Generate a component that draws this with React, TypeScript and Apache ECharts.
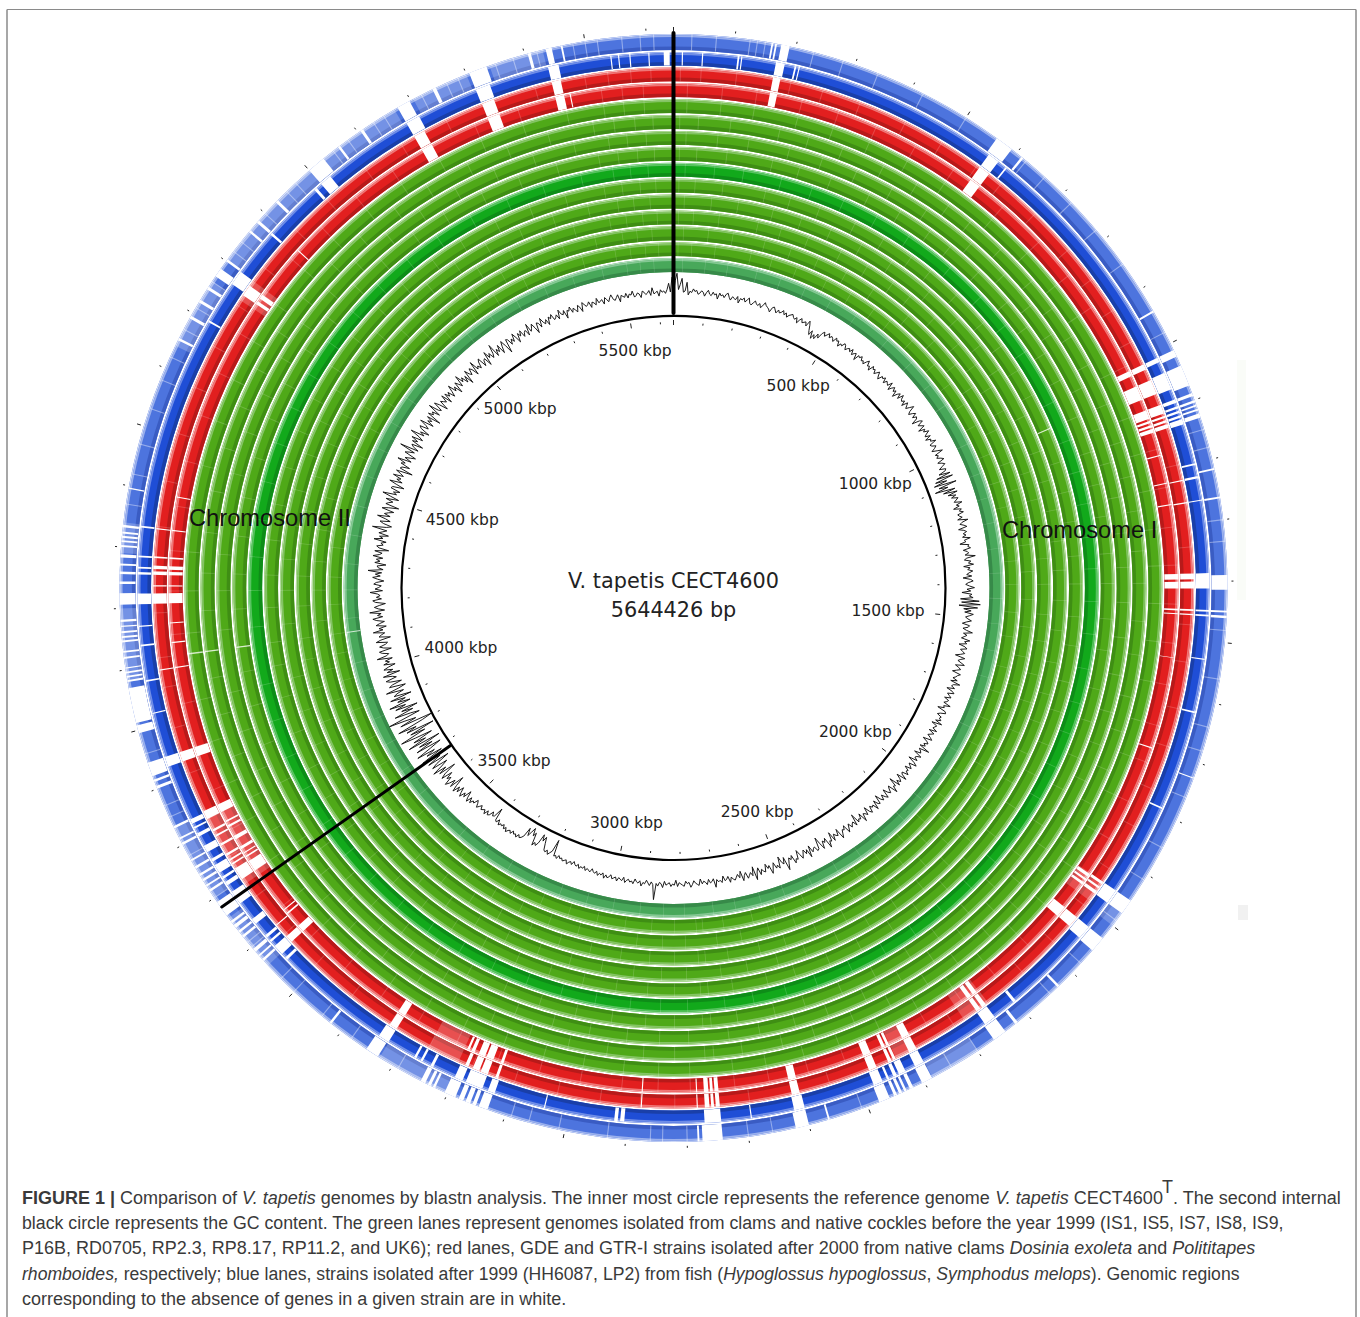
import React, { useEffect, useRef } from "react";
import * as echarts from "echarts";

const GENOME_KBP = 5644.426;
const MAJOR_TICKS = [500, 1000, 1500, 2000, 2500, 3000, 3500, 4000, 4500, 5000, 5500];
const CHROMOSOME_BOUNDARIES = [0, 3681];
const GREEN_STRAINS = ["UK6", "RP11.2", "RP8.17", "RP2.3", "RD0705", "P16B", "IS9", "IS8", "IS7", "IS5", "IS1"];

// faint (partially missing) stripes, kbp
const FAINT_A = [12, 48, 110, 205, 262, 330, 415, 487, 560, 612, 690, 775, 840, 905, 968, 1051, 1128, 1196, 1263, 1340, 1402, 1475, 1540, 1622, 1690, 1768, 1840, 1925, 2002, 2085, 2160, 2240, 2310, 2392, 2468, 2548, 2612, 2690, 2745, 2762, 2820, 2880, 2950, 3025, 3102, 3180, 3262, 3340, 3422, 3505, 3580, 3662, 3745, 3820, 3905, 3988, 4060, 4112, 4190, 4262, 4340, 4420, 4505, 4590, 4668, 4750, 4830, 4915, 4990, 5075, 5150, 5238, 5320, 5402, 5490, 5530, 5570, 5605];
const FAINT_B = [25, 88, 150, 232, 300, 372, 450, 530, 640, 730, 810, 880, 1002, 1090, 1160, 1230, 1302, 1370, 1440, 1510, 1585, 1660, 1728, 1805, 1880, 1960, 2045, 2120, 2200, 2275, 2350, 2430, 2510, 2578, 2650, 2712, 2792, 2850, 2915, 2990, 3065, 3142, 3222, 3300, 3380, 3462, 3545, 3620, 3700, 3785, 3862, 3945, 4025, 4150, 4228, 4300, 4380, 4462, 4548, 4630, 4710, 4790, 4872, 4950, 5032, 5112, 5195, 5280, 5362, 5446, 5515, 5552, 5590];
const STRONG_STRIPES: Record<number, number[]> = { 10: [4112], 9: [4112], 7: [4112], 5: [1051], 0: [4112] };

const RED_INNER_GAPS = [[173, 186], [565, 585], [1012, 1022], [1042, 1068], [1088, 1104], [1108, 1112], [1116, 1120], [1123, 1130], [1171, 1173], [1222, 1224], [1261, 1263], [1386, 1396], [1400, 1412], [1448, 1451], [1456, 1458], [1535, 1536], [1700, 1702], [1952, 1958], [1962, 1966], [1970, 1975], [2026, 2046], [2244, 2252], [2256, 2264], [2386, 2400], [2426, 2431], [2434, 2440], [2462, 2476], [2602, 2616], [2742, 2749], [2752, 2757], [2760, 2768], [2877, 2879], [2780, 2782], [3131, 3136], [3150, 3163], [3166, 3178], [3186, 3192], [3196, 3200], [3326, 3340], [3562, 3575], [3603, 3606], [3612, 3614], [3700, 3720], [3728, 3731], [3736, 3738], [3745, 3750], [3765, 3772], [3790, 3794], [3800, 3803], [3820, 3835], [3928, 3945], [4090, 4092], [4135, 4137], [4170, 4172], [4206, 4224], [4236, 4238], [4256, 4262], [4266, 4272], [4285, 4288], [4335, 4337], [4395, 4397], [4770, 4776], [4782, 4790], [4890, 4892], [5176, 5196], [5306, 5328], [5432, 5448], [5458, 5460]];
const RED_OUTER_GAPS = [[173, 186], [565, 585], [1012, 1022], [1042, 1068], [1088, 1104], [1108, 1112], [1116, 1120], [1123, 1130], [1223, 1225], [1262, 1264], [1386, 1396], [1400, 1412], [1448, 1451], [1456, 1458], [1950, 1955], [1960, 1964], [1969, 1975], [2026, 2046], [2244, 2252], [2256, 2264], [2386, 2400], [2426, 2431], [2434, 2440], [2462, 2476], [2602, 2616], [2742, 2749], [2752, 2757], [2760, 2768], [2877, 2879], [2780, 2782], [3131, 3136], [3150, 3163], [3166, 3178], [3186, 3192], [3326, 3340], [3562, 3575], [3600, 3602], [3700, 3722], [3730, 3733], [3738, 3741], [3748, 3752], [3768, 3772], [3786, 3789], [3796, 3800], [3820, 3835], [3928, 3945], [4090, 4092], [4206, 4224], [4236, 4238], [4256, 4262], [4266, 4272], [4285, 4288], [4335, 4337], [4770, 4790], [5176, 5196], [5306, 5328], [5432, 5448]];
const BLUE_INNER_GAPS = [[14, 16], [48, 50], [108, 111], [114, 116], [173, 188], [205, 208], [212, 214], [565, 585], [600, 603], [1012, 1020], [1040, 1070], [1088, 1094], [1100, 1104], [1108, 1112], [1116, 1120], [1123, 1132], [1200, 1203], [1222, 1226], [1262, 1264], [1386, 1412], [1448, 1451], [1456, 1459], [1530, 1532], [1620, 1623], [1790, 1793], [1950, 1975], [2026, 2050], [2200, 2205], [2245, 2265], [2386, 2402], [2420, 2432], [2436, 2442], [2450, 2454], [2462, 2478], [2600, 2618], [2690, 2692], [2742, 2770], [2905, 2912], [2916, 2922], [3040, 3042], [3128, 3140], [3150, 3180], [3186, 3200], [3240, 3245], [3260, 3264], [3272, 3276], [3326, 3345], [3545, 3550], [3558, 3576], [3585, 3589], [3595, 3600], [3625, 3635], [3668, 3692], [3705, 3712], [3718, 3722], [3730, 3745], [3752, 3757], [3770, 3782], [3800, 3806], [3815, 3818], [3824, 3832], [3928, 3945], [4020, 4022], [4075, 4078], [4135, 4138], [4168, 4170], [4206, 4224], [4256, 4260], [4266, 4269], [4285, 4288], [4335, 4338], [4700, 4703], [4775, 4800], [4880, 4884], [4985, 4990], [5000, 5020], [5176, 5200], [5305, 5330], [5432, 5450], [5538, 5540], [5551, 5553], [5570, 5572], [5602, 5604], [5628, 5638]];
const BLUE_OUTER_GAPS = [[160, 163], [166, 169], [176, 190], [560, 590], [610, 614], [940, 943], [1012, 1024], [1040, 1075], [1088, 1093], [1100, 1104], [1108, 1111], [1115, 1118], [1123, 1130], [1215, 1218], [1262, 1265], [1390, 1414], [1448, 1451], [1456, 1460], [1725, 1727], [1950, 1975], [2026, 2052], [2130, 2134], [2220, 2225], [2245, 2268], [2386, 2404], [2420, 2426], [2432, 2436], [2440, 2445], [2449, 2454], [2462, 2480], [2565, 2568], [2600, 2622], [2742, 2775], [2780, 2783], [3130, 3145], [3150, 3156], [3160, 3168], [3172, 3180], [3186, 3205], [3222, 3226], [3230, 3235], [3240, 3248], [3328, 3350], [3420, 3424], [3570, 3574], [3580, 3583], [3590, 3596], [3620, 3624], [3630, 3634], [3640, 3646], [3650, 3654], [3665, 3692], [3712, 3716], [3722, 3725], [3732, 3736], [3742, 3746], [3756, 3760], [3770, 3773], [3800, 3804], [3810, 3813], [3830, 3834], [3900, 3905], [3912, 3916], [3922, 3945], [3995, 4008], [4012, 4070], [4080, 4083], [4087, 4090], [4094, 4097], [4102, 4104], [4118, 4121], [4128, 4131], [4145, 4148], [4152, 4155], [4160, 4163], [4170, 4172], [4178, 4182], [4206, 4225], [4240, 4244], [4256, 4260], [4270, 4273], [4283, 4288], [4300, 4303], [4308, 4311], [4315, 4318], [4322, 4325], [4332, 4336], [4395, 4397], [4650, 4654], [4690, 4695], [4720, 4725], [4745, 4750], [4770, 4785], [4800, 4804], [4860, 4864], [4880, 4885], [4925, 4930], [5000, 5030], [5060, 5064], [5105, 5110], [5176, 5198], [5240, 5246], [5305, 5335], [5405, 5410], [5435, 5445], [5460, 5463]];
const BLUE_OUTER_FAINT = [30, 70, 125, 137, 150, 230, 280, 340, 420, 500, 620, 660, 720, 780, 850, 980, 1150, 1180, 1300, 1335, 1480, 1560, 1640, 1680, 1760, 1850, 1910, 1990, 2080, 2150, 2300, 2350, 2510, 2660, 2700, 2800, 2840, 2860, 2930, 3010, 3060, 3090, 3290, 3380, 3440, 3500, 3530, 3600, 3610, 3650, 3700, 3780, 3850, 3870, 3960, 4370, 4420, 4470, 4530, 4580, 4620, 4670, 4710, 4760, 4820, 4840, 4900, 4950, 4970, 5050, 5080, 5130, 5150, 5220, 5265, 5285, 5350, 5380, 5420, 5480, 5500, 5520, 5560, 5590, 5612];
// pale stretches where a lane is only partly aligned, kbp
const RED_PALE = [[1950, 1990], [2240, 2290], [2395, 2425], [3205, 3262], [3690, 3830], [4760, 4800]];
const BLUE_PALE = [[3560, 3660], [3700, 3830], [4290, 4340], [4080, 4200], [4640, 4760], [4800, 5000], [5030, 5170], [5205, 5300], [5340, 5430], [1950, 2000], [2300, 2385], [3205, 3325]];

// GC trace: one reading per 5 kbp, deviation (px-scale) from the base circle
const GC_DEVIATION = [
  -1, 9, 15, 2, 6, 11, 0, 1, 8, -2, 1, 0, 3, 1, 2, -1, 0, 2, 1, -2, 1, 3, 0, -1, 2,
  0, 1, -3, 2, 0, 1, -1, 2, 3, 0, -2, 1, 0, -1, 2, -3, 1, 0, 2, -1, 1, 3, -1, -2, 0,
  2, 0, -1, 1, -2, 0, 3, 1, 0, -1, -3, 1, 2, 0, -2, 1, -1, 0, 2, -1, 1, -2, 0, 1, 2,
  0, -1, 1, -3, 0, 2, -1, 0, 1, -2, 3, 0, -4, -7, -3, -9, -5, -8, -3, -6, -1, 1, -2, 0, 2,
  -1, 1, 0, -2, 2, 0, 1, -3, 0, -1, 2, 1, -2, 0, 1, -1, 2, -2, 0, 1, -4, 1, 0, 2, -1,
  0, -2, 1, 3, -1, 0, -3, 2, 0, 1, -2, 0, 2, -1, -3, 1, 0, 2, -2, 1, 0, -1, 3, -3, 0,
  2, -1, 1, -4, 0, 2, -2, 3, 0, -1, 1, -3, 2, 0, -2, 1, 4, -1, -3, 0, 2, -2, 1, 0, -5,
  1, 3, -2, 0, 2, -4, 1, -1, 3, 0, -2, 2, -3, 1, 0, 4, -2, -1, 2, 0, -3, 1, 5, -2, 0,
  -2, 1, 3, -3, 0, 2, -1, -4, 1, 0, -6, 3, -9, 4, -11, -2, -13, 5, -10, -3, -14, 2, -8, 3, -5,
  1, -3, 2, 0, -2, 4, -1, 1, -4, 2, 0, 3, -2, -1, 1, -3, 5, 0, -2, 1, 3, -4, 0, 2, -1,
  1, -2, 4, -1, 0, -5, 2, 1, 3, -3, 0, 1, -2, 6, -1, -3, 2, 0, 4, -4, 1, -1, 3, 0, -2,
  2, -5, 1, 3, -1, -3, 0, 4, -2, 1, -6, 2, 0, 3, -7, 8, -6, 9, -8, 7, -4, 2, -3, 4, 1,
  -2, 0, 3, -1, -4, 2, 1, -3, 0, 5, -2, 1, -1, -3, 4, 0, 2, -4, 1, 3, -2, 0, 2, -1, -5,
  3, 0, -2, 1, 4, -3, 0, 2, -1, -4, 3, 1, 0, -2, 2, -3, 5, 0, -1, 2, -4, 1, 3, -2, 0,
  2, -3, 1, 0, -2, 4, -1, 0, -5, 2, 3, -1, -3, 1, 0, 2, -2, 4, -4, 1, 0, -1, 3, -3, 2,
  0, -2, 1, 3, -4, 0, 2, -1, 1, -3, 6, -2, 0, 1, -4, 3, 0, -1, 2, -5, 1, 4, -2, 0, 2,
  -3, 1, 0, 3, -2, -1, 4, -4, 0, 2, -1, 3, -6, 1, 0, 5, -3, -1, 2, 0, -4, 3, 1, -2, 2,
  0, -5, 2, 1, -3, 4, -1, 0, -2, 3, 1, -4, 2, 0, -1, 5, -3, 1, 0, 2, -6, 3, -1, 0, 2,
  -2, 1, 4, -3, 0, -1, 2, 5, -4, 1, 0, -2, 3, -5, 2, 1, 6, -3, 0, -2, 4, -1, -7, 2, 3,
  -1, 0, 2, -4, 5, -2, 1, -3, 0, 3, -1, -5, 2, 1, 4, -3, 0, -2, 2, 7, -4, 1, -1, -6, 3,
  0, 2, -3, 1, 5, -2, 0, -4, 2, 1, -1, 3, -3, 0, 6, -5, 2, -1, 1, 3, -2, 0, 4, -4, 1,
  -2, 0, 2, 1, -1, 3, -2, 0, 1, -3, 2, 0, 1, -1, 5, -2, 0, 1, -2, 2, 0, -1, 1, -3, 2,
  1, 0, -2, 1, 3, -1, 0, -2, 2, 1, 0, -1, 2, -3, 1, 0, 2, -1, 0, 1, -2, 3, 0, -1, 2,
  0, 13, 1, -1, 2, 0, -2, 1, 0, 3, -1, 1, 0, -2, 2, 0, 1, -1, 0, 2, -2, 1, 0, -1, 2,
  -1, 0, 1, -2, 0, 1, -1, 2, -2, 0, -1, 1, -2, 0, -1, -3, 0, -1, -2, 0, -3, -1, -2, 0, -3,
  -1, -2, -4, -1, -3, -2, 0, -3, -2, -1, -3, -2, -4, -1, -3, -2, -15, -5, -3, -1, -4, -2, -3, -8, -13,
  -9, -14, -6, -3, -5, -2, -12, -9, -15, -11, -7, -13, -5, -3, -2, -4, -1, -3, -2, -4, -1, -3, -2, 0, -3,
  -1, -4, -2, -3, -1, -5, -2, -3, -13, -5, -4, -7, -3, -2, -5, -1, -4, -3, -2, -5, -3, -1, -4, -6, -2,
  -3, 0, -4, 1, -2, -7, 0, -3, 2, -1, -5, 1, -3, 3, -2, -10, 2, -4, 1, 4, -3, 0, -6, 3, -1,
  -12, 2, -5, 6, -3, -9, 4, -1, -13, 5, -7, 3, 8, -11, 2, -6, 9, -4, -14, 7, -8, 3, -16, 11, -5,
  5, -12, 2, 14, -8, 4, -17, 6, -3, 12, -10, -19, 8, -6, 3, 16, -11, -4, 9, -7, 2, -12, 6, -3, 10,
  -8, 2, -5, 7, -11, 3, 0, -6, 8, -3, -9, 4, 1, -7, 2, 5, -4, -1, 6, -8, 2, -3, 4, 0, -6,
  3, -2, 1, -5, 7, -1, -3, 2, 4, -6, 0, 3, -2, -4, 5, 1, -7, 2, 0, -3, 6, -2, 1, -5, 3,
  0, -4, 2, 5, -3, 1, -2, 7, -5, 0, 3, -1, -6, 2, 4, -3, 1, -2, 0, 6, -4, 2, -1, -3, 3,
  1, -5, 0, 4, -2, 2, -3, 8, -4, 0, 1, -6, 3, -1, 2, -3, 5, 0, -2, 4, -7, 1, 3, -2, 0,
  -4, 6, -1, 2, -5, 3, 0, -3, 9, -2, -6, 1, 4, -4, 0, 7, -3, 2, -1, -5, 5, 0, -8, 3, 1,
  -2, 4, -6, 1, 8, -3, 0, -5, 3, 2, -7, 0, 6, -4, 1, -2, 5, -3, 0, 4, -9, 2, 1, -5, 3,
  0, 7, -4, 2, -2, -6, 4, 1, -3, 10, -5, 0, 2, -7, 3, -1, 5, -4, 0, 8, -3, 1, -6, 2, 4,
  -3, 0, 6, -5, 1, -2, 3, -8, 4, 0, 2, -4, 7, -1, -3, 5, 1, -6, 2, 0, -2, 4, -5, 3, -1,
  2, -4, 0, 5, -2, 1, -6, 3, 0, -3, 6, -1, 2, -4, 1, -7, 4, 0, -2, 3, 1, -5, 6, -2, 0,
  -3, 2, 4, -4, 0, 1, -6, 5, -1, 2, -3, 0, 7, -4, 1, -2, 3, -5, 0, 4, -1, -8, 3, 2, -3,
  1, -2, 4, 0, -5, 2, -1, 3, -3, 0, 1, -4, 5, -2, 0, 3, -1, -6, 2, 1, -3, 4, 0, -2, 1,
  -4, 2, 0, 3, -2, -1, 1, -3, 4, 0, -1, 2, -5, 1, 0, 3, -2, 1, -1, -3, 2, 0, -4, 3, 1,
  -1, 0, 2, -3, 1, 0, -2, 3, -1, 0, 1, -3, 2, 0, -2, 1, 3, -1, -2, 0, 2, -4, 1, 0, -1,
  2, -2, 1, 0, 3, -2, -1, 1, 0, -3, 2, 1, -1, 0, 2, -2, 4, -1, 0, 1, -3, 2, 0, 1, -1,
  2, 7, 0, 12
];
const GC_BASE = 296;
const GC_GAIN = 1.25;
const GC_POINTS = GC_DEVIATION.map((d, i) => [GC_BASE + d * GC_GAIN, i * 5]);

const CENTER: [number, number] = [673.5, 588];
const C_GREEN = ["#b4dc9f", "#84c464", "#4fa918", "#3f8e14"];
const C_BRIGHT = ["#9adb9e", "#58c360", "#12a91b", "#0e8d18"];
const C_SEA = ["#b2ddbb", "#84c893", "#48a85a", "#378a49"];
const C_RED = ["#f8b4b4", "#ef7676", "#e21f1f", "#b71a1a"];
const C_BLUE = ["#aebff2", "#6f8de7", "#1f4ed6", "#1a3fa8"];
const C_PALE = ["#ccd7f6", "#9ab0ed", "#4d74de", "#3a5cc3"];

type Lane = { name: string; r0: number; r1: number; colors: string[]; gaps: number[][]; pale: number[][]; faint: number[]; strong: number[] };
const LANES: Lane[] = [
  ...GREEN_STRAINS.map((name, k) => ({
    name,
    r0: 316 + 15.9 * k,
    r1: 329.9 + 15.9 * k,
    colors: k === 0 ? C_SEA : k === 6 ? C_BRIGHT : C_GREEN,
    gaps: [],
    pale: [],
    faint: k % 2 ? FAINT_A : FAINT_B,
    strong: STRONG_STRIPES[k] || [],
  })),
  { name: "GDE", r0: 491, r1: 505, colors: C_RED, gaps: RED_INNER_GAPS, pale: RED_PALE, faint: FAINT_B, strong: [] },
  { name: "GTR-I", r0: 506.8, r1: 520.6, colors: C_RED, gaps: RED_OUTER_GAPS, pale: RED_PALE, faint: FAINT_A, strong: [] },
  { name: "HH6087", r0: 522.5, r1: 536, colors: C_BLUE, gaps: BLUE_INNER_GAPS, pale: [], faint: [], strong: [] },
  { name: "LP2", r0: 538, r1: 554, colors: C_PALE, gaps: BLUE_OUTER_GAPS, pale: BLUE_PALE, faint: BLUE_OUTER_FAINT, strong: [] },
];

function sector(api: any, params: any, r0: number, r1: number, s: number, e: number, style: any) {
  const { cx, cy } = params.coordSys;
  const a = api.coord([r1, s]);
  const b = api.coord([r1, e]);
  const c = api.coord([r0, s]);
  const rOuter = Math.hypot(a[0] - cx, a[1] - cy);
  const rInner = Math.hypot(c[0] - cx, c[1] - cy);
  const a0 = Math.atan2(a[1] - cy, a[0] - cx);
  let a1 = Math.atan2(b[1] - cy, b[0] - cx);
  if (e - s >= GENOME_KBP) a1 = a0 + Math.PI * 2;
  else if (a1 < a0) a1 += Math.PI * 2;
  return { type: "sector", silent: true, shape: { cx, cy, r: rOuter, r0: rInner, startAngle: a0, endAngle: a1, clockwise: true }, style };
}

function laneSeries(lane: Lane) {
  const data: number[][] = [[0, GENOME_KBP, 0]];
  lane.pale.forEach((g) => data.push([g[0], g[1], 4]));
  lane.faint.forEach((k) => data.push([k - 0.9, k + 0.9, 2]));
  lane.strong.forEach((k) => data.push([k - 1.3, k + 1.3, 3]));
  lane.gaps.forEach((g) => data.push([g[0], g[1], 1]));
  const isOuter = lane.name === "LP2";
  return {
    type: "custom",
    name: lane.name,
    coordinateSystem: "polar",
    polarIndex: 0,
    silent: true,
    data,
    renderItem(params: any, api: any) {
      const s = api.value(0);
      const e = api.value(1);
      const kind = api.value(2);
      const { r0, r1, colors } = lane;
      if (kind === 0) {
        return {
          type: "group",
          children: [
            sector(api, params, r0, r1, s, e, { fill: colors[2] }),
            sector(api, params, r1 - 1.3, r1, s, e, { fill: colors[0] }),
            sector(api, params, r1 - 3, r1 - 1.3, s, e, { fill: colors[1] }),
            sector(api, params, r0, r0 + 3.6, s, e, { fill: colors[3] }),
          ],
        };
      }
      if (kind === 1) return sector(api, params, r0, r1, s, e, { fill: "#ffffff" });
      if (kind === 2) return sector(api, params, r0, r1, s, e, { fill: "#ffffff", opacity: isOuter ? 0.4 : 0.18 });
      if (kind === 4) return sector(api, params, r0, r1, s, e, { fill: "#ffffff", opacity: 0.22 });
      return sector(api, params, r0, r1, s, e, { fill: "#ffffff", opacity: 0.75 });
    },
  };
}

function tickSeries(name: string, ticks: number[], lengthFn: (k: number) => [number, number]) {
  return {
    type: "custom",
    name,
    coordinateSystem: "polar",
    polarIndex: 0,
    silent: true,
    z: 5,
    data: ticks.map((k) => [k]),
    renderItem(params: any, api: any) {
      const k = api.value(0);
      const [a, b] = lengthFn(k);
      const p = api.coord([a, k]);
      const q = api.coord([b, k]);
      return { type: "line", silent: true, shape: { x1: p[0], y1: p[1], x2: q[0], y2: q[1] }, style: { stroke: "#222", lineWidth: 1 } };
    },
  };
}

const HUNDREDS = Array.from({ length: 57 }, (_, i) => i * 100);

const CAPTION_FONT = "Liberation Sans";
const CAPTION_COLOR = "#3a3a3a";
const richFor = (size: number) => ({
  b: { fontWeight: "bold", fontFamily: CAPTION_FONT, fontSize: size, fill: CAPTION_COLOR },
  i: { fontStyle: "italic", fontFamily: CAPTION_FONT, fontSize: size, fill: CAPTION_COLOR },
  n: { fontFamily: CAPTION_FONT, fontSize: size, fill: CAPTION_COLOR },
});
const CAPTION_LINES: [number, number, string][] = [
  [1198, 18, "{b|FIGURE 1 | }{n|Comparison of }{i|V. tapetis}{n| genomes by blastn analysis. The inner most circle represents the reference genome }{i|V. tapetis}{n| CECT4600}"],
  [1223, 17.74, "{n|black circle represents the GC content. The green lanes represent genomes isolated from clams and native cockles before the year 1999 (IS1, IS5, IS7, IS8, IS9,}"],
  [1248, 17.98, "{n|P16B, RD0705, RP2.3, RP8.17, RP11.2, and UK6); red lanes, GDE and GTR-I strains isolated after 2000 from native clams }{i|Dosinia exoleta}{n| and }{i|Polititapes}"],
  [1274, 17.6, "{i|rhomboides,}{n| respectively; blue lanes, strains isolated after 1999 (HH6087, LP2) from fish (}{i|Hypoglossus hypoglossus}{n|, }{i|Symphodus melops}{n|). Genomic regions}"],
  [1299, 18, "{n|corresponding to the absence of genes in a given strain are in white.}"],
];

export default function App() {
  const ref = useRef<HTMLDivElement>(null);
  useEffect(() => {
    const chart = echarts.init(ref.current!, undefined, { renderer: "svg" });
    const labelFont = "DejaVu Sans";
    chart.setOption({
      animation: false,
      backgroundColor: "#ffffff",
      polar: [
        { center: CENTER, radius: 560 },
        { center: CENTER, radius: 272 },
      ],
      radiusAxis: [
        { polarIndex: 0, type: "value", min: 0, max: 560, show: false },
        { polarIndex: 1, type: "value", min: 0, max: 272, show: false },
      ],
      angleAxis: [
        { polarIndex: 0, type: "value", min: 0, max: GENOME_KBP, startAngle: 90, clockwise: true, show: false },
        {
          polarIndex: 1,
          type: "value",
          min: 0,
          max: GENOME_KBP,
          interval: 500,
          startAngle: 90,
          clockwise: true,
          axisLine: { show: true, lineStyle: { color: "#000", width: 2.2 } },
          axisTick: { show: false },
          axisLabel: { show: false },
          splitLine: { show: false },
        },
      ],
      series: [
        ...LANES.map(laneSeries),
        {
          type: "line",
          name: "GC content",
          coordinateSystem: "polar",
          polarIndex: 0,
          showSymbol: false,
          symbol: "none",
          silent: true,
          z: 4,
          lineStyle: { color: "#111", width: 0.95 },
          data: GC_POINTS,
        },
        tickSeries("inner ticks", HUNDREDS, (k) => (k % 500 === 0 ? [263, 268] : [264, 266])),
        tickSeries("outer ticks", HUNDREDS, (k) => (k % 500 === 0 ? [557, 561] : [558, 560])),
        {
          type: "custom",
          name: "chromosome boundaries",
          coordinateSystem: "polar",
          polarIndex: 0,
          silent: true,
          z: 6,
          data: CHROMOSOME_BOUNDARIES.map((k) => [k]),
          renderItem(params: any, api: any) {
            const k = api.value(0);
            const top = k === 0;
            const p = api.coord([top ? 275 : 273, k]);
            const q = api.coord([top ? 555 : 553, k]);
            return { type: "line", silent: true, shape: { x1: p[0], y1: p[1], x2: q[0], y2: q[1] }, style: { stroke: "#000", lineWidth: top ? 4 : 3, lineCap: "round" } };
          },
        },
        {
          type: "custom",
          name: "kbp labels",
          coordinateSystem: "polar",
          polarIndex: 0,
          silent: true,
          z: 6,
          data: MAJOR_TICKS.map((k) => [k]),
          renderItem(params: any, api: any) {
            const k = api.value(0);
            const th = (k / GENOME_KBP) * Math.PI * 2;
            const c = Math.cos(th);
            const sn = Math.abs(Math.sin(th));
            const p = api.coord([213 + 27 * Math.abs(c), k]);
            return {
              type: "text",
              silent: true,
              x: p[0],
              y: p[1] - 14 * c * sn * sn * sn,
              style: { text: `${k} kbp`, font: `15.5px "${labelFont}"`, fill: "#222", textAlign: "center", textVerticalAlign: "middle" },
            };
          },
        },
      ],
      graphic: [
        { type: "line", z: 1, shape: { x1: 7, y1: 9.5, x2: 1356, y2: 9.5 }, style: { stroke: "#8a8a8a", lineWidth: 1 } },
        { type: "line", z: 1, shape: { x1: 7, y1: 9.5, x2: 7, y2: 1317 }, style: { stroke: "#8a8a8a", lineWidth: 1.5 } },
        { type: "line", z: 1, shape: { x1: 1356, y1: 9.5, x2: 1356, y2: 1317 }, style: { stroke: "#8a8a8a", lineWidth: 1.5 } },
        { type: "rect", z: 1, shape: { x: 1238, y: 905, width: 10, height: 15 }, style: { fill: "#f1f1f1" } },
        { type: "rect", z: 1, shape: { x: 1237, y: 360, width: 9, height: 240 }, style: { fill: "#fafcf8" } },
        { type: "text", z: 20, x: 673.5, y: 581, style: { text: "V. tapetis CECT4600", font: `20.8px "${labelFont}"`, fill: "#222", textAlign: "center", textVerticalAlign: "middle" } },
        { type: "text", z: 20, x: 673.5, y: 610, style: { text: "5644426 bp", font: `20.8px "${labelFont}"`, fill: "#222", textAlign: "center", textVerticalAlign: "middle" } },
        { type: "text", z: 20, x: 189, y: 518, style: { text: "Chromosome II", font: `23.7px "Liberation Sans"`, fill: "#111", textAlign: "left", textVerticalAlign: "middle" } },
        { type: "text", z: 20, x: 1002, y: 530, style: { text: "Chromosome I", font: `23.7px "Liberation Sans"`, fill: "#111", textAlign: "left", textVerticalAlign: "middle" } },
        ...CAPTION_LINES.map(([y, size, text]) => ({
          type: "text",
          z: 20,
          x: 22,
          y,
          style: { text, rich: richFor(size), textAlign: "left", textVerticalAlign: "middle", font: `${size}px "${CAPTION_FONT}"`, fill: CAPTION_COLOR },
        })),
        { type: "text", z: 20, x: 1162, y: 1187, style: { text: "T", font: `18px "${CAPTION_FONT}"`, fill: CAPTION_COLOR, textVerticalAlign: "middle" } },
        { type: "text", z: 20, x: 1173, y: 1198, style: { text: ". The second internal", font: `18px "${CAPTION_FONT}"`, fill: CAPTION_COLOR, textVerticalAlign: "middle" } },
      ],
    });
    return () => chart.dispose();
  }, []);
  return <div ref={ref} style={{ position: "absolute", left: 0, top: 0, width: 1360, height: 1317 }} />;
}
